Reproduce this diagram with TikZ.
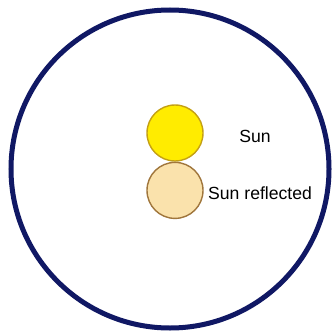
\documentclass[tikz,border=0pt]{standalone}
\usepackage{fontspec}
\setmainfont{Liberation Sans}
\usepackage{tikz}
\usetikzlibrary{positioning}
\definecolor{mynavy}{RGB}{16, 24, 100}
\definecolor{myyellow}{RGB}{255, 236, 0}
\definecolor{mygold}{RGB}{196, 160, 20}
\definecolor{mywheat}{RGB}{250, 226, 172}
\definecolor{mybrown}{RGB}{160, 118, 60}
\tikzstyle{sun} = [circle, minimum size=56pt, inner sep=0pt, draw=mygold, line width=1.4pt, fill=myyellow]
\tikzstyle{reflected} = [circle, minimum size=56pt, inner sep=0pt, draw=mybrown, line width=1.4pt, fill=mywheat]
\tikzstyle{label} = [font=\fontsize{17.6}{20}\selectfont, text=black, inner sep=0pt]

\begin{document}
\begin{tikzpicture}[x=1pt, y=-1pt]
    \useasboundingbox (0,0) rectangle (334,334);
    \fill[white] (0,0) rectangle (334,334);
    \node (sky) [circle, minimum size=318pt, inner sep=0pt, draw=mynavy, line width=5pt] at (170,169) {};
    \node (s) [sun] at (175,133) {};
    \node (r) [reflected, below=0pt of s] {};
    \node (ls) [label] at (255,136) {Sun};
    \node (lr) [label, anchor=west] at (208,193) {Sun reflected};
\end{tikzpicture}
\end{document}
